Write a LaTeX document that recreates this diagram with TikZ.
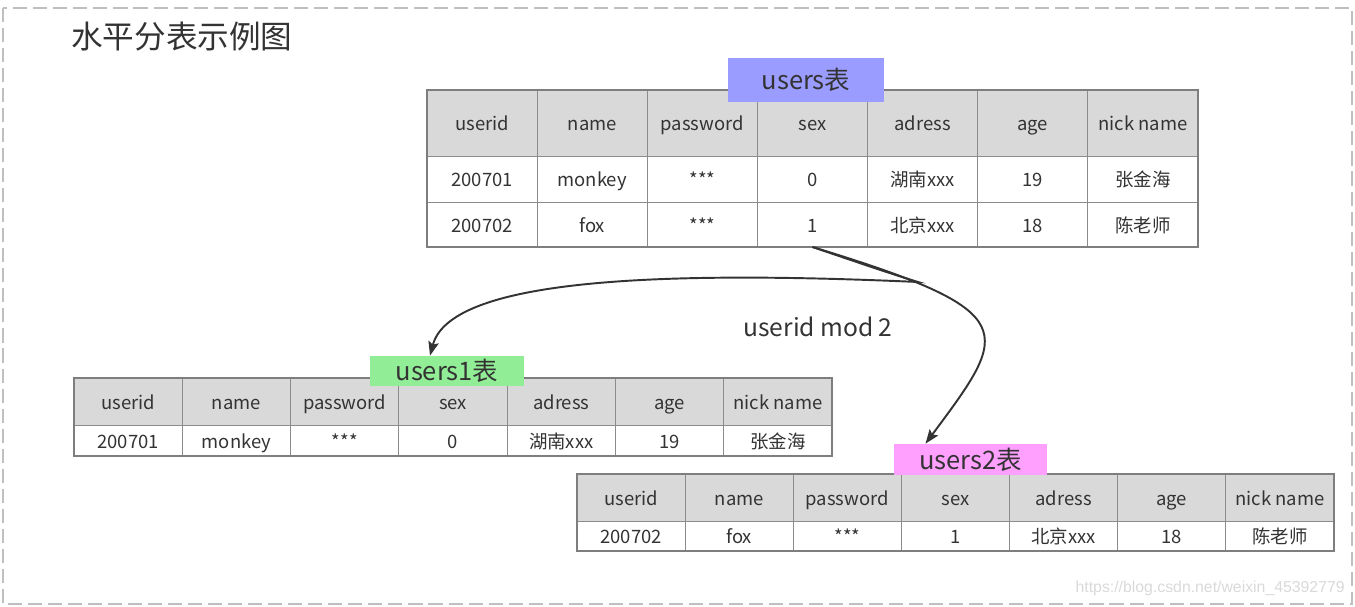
\documentclass[tikz,border=0pt]{standalone}
\usepackage{fontspec}
\setmainfont{Noto Sans CJK SC}
\newfontfamily\markfont{Liberation Sans}
\usetikzlibrary{arrows.meta}

\definecolor{txtgray}{HTML}{333333}
\definecolor{hdrgray}{HTML}{D9D9D9}
\definecolor{linegray}{HTML}{8C8C8C}
\definecolor{tagblue}{HTML}{9A9CFF}
\definecolor{taggreen}{HTML}{92EE96}
\definecolor{tagpink}{HTML}{FFA0FF}

\tikzset{
  cell/.style={draw=linegray, line width=0.55pt, outer sep=0pt, inner sep=0pt,
    text=txtgray, font=\fontsize{10.5}{12}\selectfont, text height=11pt, text depth=2.2pt},
  hcell/.style={cell, fill=hdrgray},
  outer/.style={draw=linegray!90!black, line width=1.2pt},
  tag/.style={inner sep=0pt, text=txtgray, font=\fontsize{14.5}{16}\selectfont},
  link/.style={-{Stealth[length=8pt,width=6pt,inset=1.5pt]}, line width=1.1pt, txtgray},
}

\begin{document}
\begin{tikzpicture}[x=0.02cm, y=-0.02cm]
\useasboundingbox (0,0) rectangle (1355,607);
\draw[gray!50, line width=1.1pt, dash pattern=on 8pt off 3.4pt] (3,8) rectangle (1352,604);

\node[anchor=west, text=txtgray, font=\fontsize{18}{20}\selectfont] (title) at (65,37) {水平分表示例图};

% users
\foreach \txt [count=\i] in {userid,name,password,sex,adress,age,nick name}
  \node[hcell, minimum width=2.2028cm, minimum height=1.32cm] (u-0-\i) at ({427+110.14*(\i-0.5)},123) {\txt};
\foreach \txt [count=\i] in {200701,monkey,***,0,湖南xxx,19,张金海}
  \node[cell, minimum width=2.2028cm, minimum height=0.92cm] (u-1-\i) at ({427+110.14*(\i-0.5)},179) {\txt};
\foreach \txt [count=\i] in {200702,fox,***,1,北京xxx,18,陈老师}
  \node[cell, minimum width=2.2028cm, minimum height=0.9cm] (u-2-\i) at ({427+110.14*(\i-0.5)},224.5) {\txt};
\draw[outer] (u-0-1.north west) rectangle (u-2-7.south east);

% users1
\foreach \txt [count=\i] in {userid,name,password,sex,adress,age,nick name}
  \node[hcell, minimum width=2.1657cm, minimum height=0.94cm] (a-0-\i) at ({74+108.29*(\i-0.5)},401.5) {\txt};
\foreach \txt [count=\i] in {200701,monkey,***,0,湖南xxx,19,张金海}
  \node[cell, minimum width=2.1657cm, minimum height=0.62cm] (a-1-\i) at ({74+108.29*(\i-0.5)},440.5) {\txt};
\draw[outer] (a-0-1.north west) rectangle (a-1-7.south east);

% users2
\foreach \txt [count=\i] in {userid,name,password,sex,adress,age,nick name}
  \node[hcell, minimum width=2.1629cm, minimum height=0.94cm] (b-0-\i) at ({577+108.14*(\i-0.5)},497.5) {\txt};
\foreach \txt [count=\i] in {200702,fox,***,1,北京xxx,18,陈老师}
  \node[cell, minimum width=2.1629cm, minimum height=0.6cm] (b-1-\i) at ({577+108.14*(\i-0.5)},536) {\txt};
\draw[outer] (b-0-1.north west) rectangle (b-1-7.south east);

% table names
\node[tag, fill=tagblue, minimum width=3.12cm, minimum height=0.88cm] (tag0) at (806,80) {users表};
\node[tag, fill=taggreen, minimum width=3.08cm, minimum height=0.6cm] (tag1) at (447,371) {users1表};
\node[tag, fill=tagpink, minimum width=3.06cm, minimum height=0.62cm] (tag2) at (970.5,459.5) {users2表};

% split by userid
\draw[link] (u-2-4.south) .. controls (865,265) and (898,276) .. (918,282)
  .. controls (650,270) and (450,280) .. ([xshift=-0.34cm]tag1.north);
\draw[link] (u-2-4.south) .. controls (1025,312) and (1010,330) .. ([xshift=-0.9cm]tag2.north);
\node[text=txtgray, font=\fontsize{14}{16}\selectfont] (rule) at (818,327) {userid mod 2};

\node[anchor=east, inner sep=0pt, text=gray!30, font=\markfont\fontsize{9}{10}\selectfont] (mark) at (1345,588) {https://blog.csdn.net/weixin\_45392779};
\end{tikzpicture}
\end{document}
